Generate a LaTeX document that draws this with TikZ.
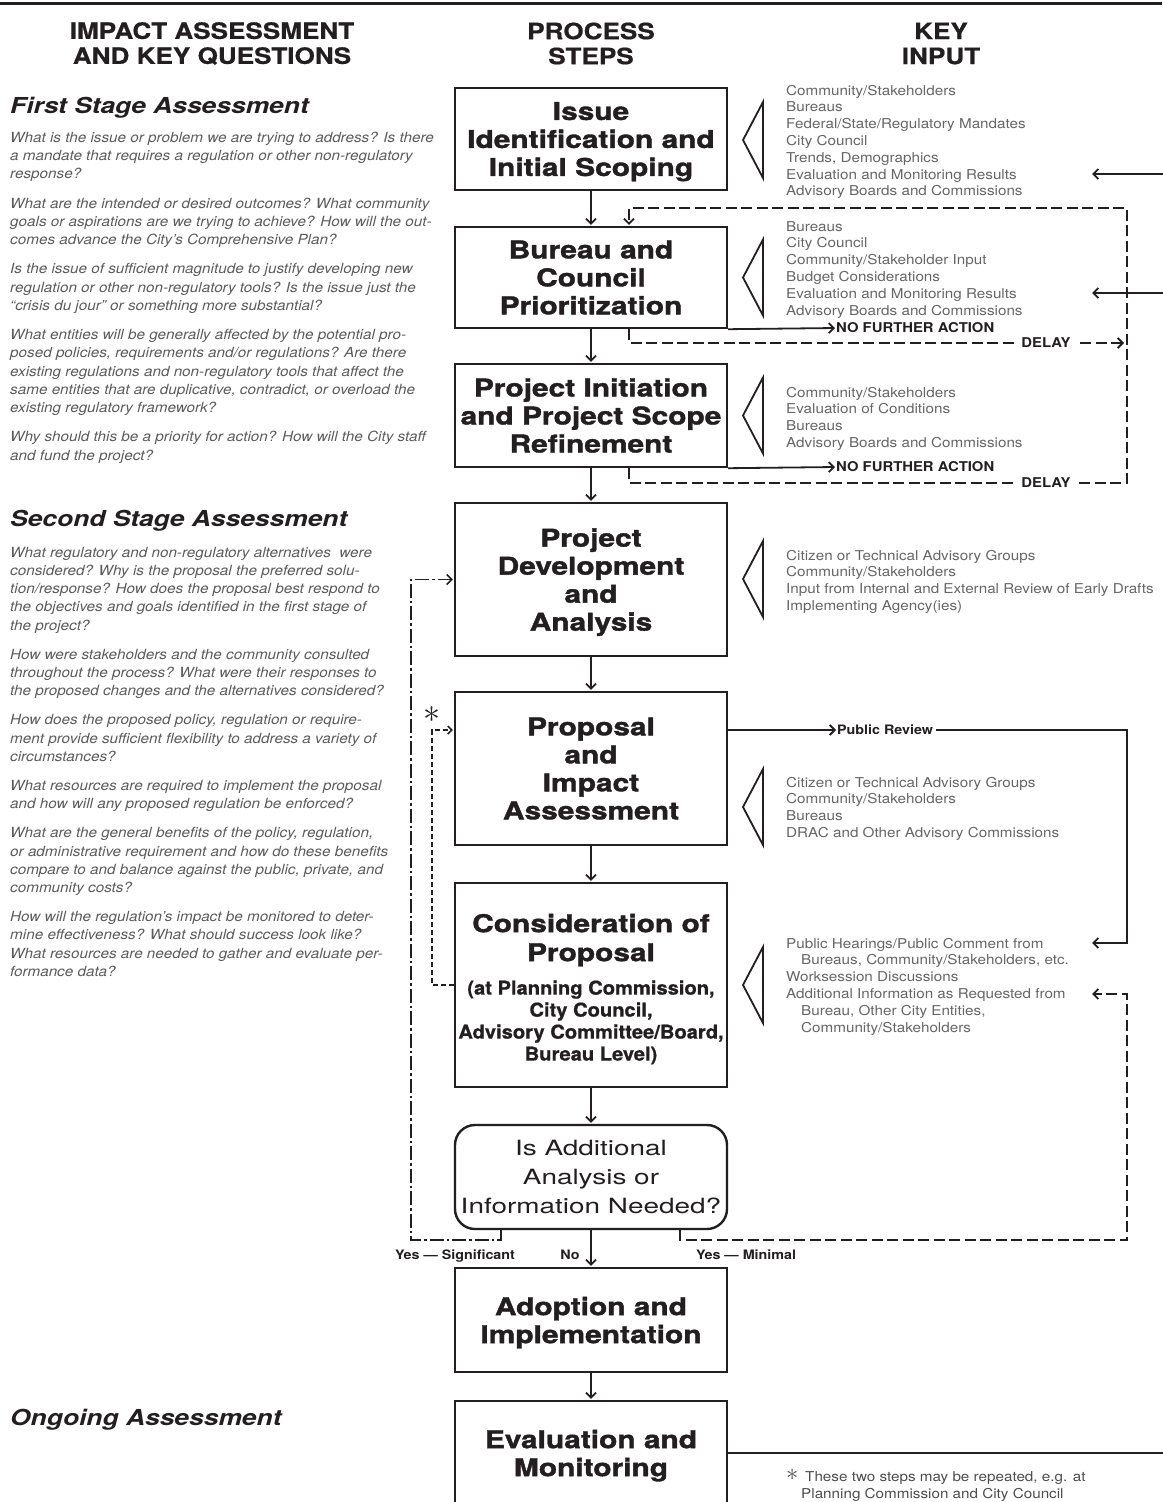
\documentclass[tikz,border=0pt]{standalone}
\usepackage{fontspec}
\usepackage{graphicx}
\usetikzlibrary{arrows.meta}
\setmainfont{TeX Gyre Heros}
\newfontfamily\hvHead[FakeStretch=1.16,BoldFeatures={FakeBold=0.6}]{TeX Gyre Heros}
\newfontfamily\hvBox[FakeStretch=1.22,BoldFeatures={FakeBold=1.5}]{TeX Gyre Heros}
\newfontfamily\hvSec[FakeStretch=1.2,BoldFeatures={FakeBold=0.8}]{TeX Gyre Heros}
\newfontfamily\hvQ[FakeStretch=1.09]{TeX Gyre Heros}
\newfontfamily\hvKey[FakeStretch=1.12]{TeX Gyre Heros}
\newfontfamily\hvDec[FakeStretch=1.33]{TeX Gyre Heros}
\newfontfamily\hvLab[FakeStretch=1.1]{TeX Gyre Heros}
\newfontfamily\hvSub[FakeStretch=1.06,BoldFeatures={FakeBold=0.8}]{TeX Gyre Heros}
\definecolor{ink}{HTML}{231F20}
\definecolor{qgray}{HTML}{5C5C5C}
\definecolor{kgray}{HTML}{666666}
\newcommand\lnstrut[1]{\rule{0pt}{#1pt}}
\newcommand\nodesc[1]{\raisebox{0pt}[\height][0pt]{#1}}
\tikzset{
  hdr/.style={font=\hvHead\bfseries\fontsize{22.5}{25}\selectfont, align=center, inner sep=0pt, text=ink},
  sec/.style={font=\hvSec\bfseries\itshape\fontsize{22}{26}\selectfont, inner sep=0pt, text=ink, anchor=base west},
  qtext/.style={font=\hvQ\itshape\fontsize{14}{18.2}\selectfont, align=left, inner sep=0pt, text=qgray, anchor=north west},
  kin/.style={font=\hvKey\fontsize{13.6}{16.8}\selectfont, align=left, inner sep=0pt, text=kgray, anchor=north west},
  stepbox/.style={draw=ink, line width=2.4pt, minimum width=272pt, inner sep=0pt, align=center, text=ink, font=\hvBox\bfseries\fontsize{24.5}{28}\selectfont},
  bigtext/.style={font=\hvBox\bfseries\fontsize{24.5}{29}\selectfont, align=center, inner sep=0pt, text=ink},
  subtext/.style={font=\hvSub\bfseries\fontsize{19}{22}\selectfont, align=center, inner sep=0pt, text=ink},
  decbox/.style={draw=ink, line width=2.4pt, rounded corners=20pt, minimum width=272pt, minimum height=104pt, inner sep=0pt, align=center, text=ink, font=\hvDec\fontsize{21}{29}\selectfont},
  lab/.style={font=\hvLab\bfseries\fontsize{13.5}{16}\selectfont, inner sep=0pt, text=ink},
  smalllab/.style={font=\hvLab\bfseries\fontsize{13}{16}\selectfont, inner sep=0pt, text=ink},
  gaplab/.style={lab, fill=white, inner xsep=5pt, inner ysep=2pt},
  conn/.style={draw=ink, line width=1.8pt},
  tipend/.style={-{Straight Barb[length=5pt,width=10pt]}, shorten >=1pt},
  flow/.style={conn, tipend},
  dashline/.style={dash pattern=on 11pt off 4.5pt},
  dashshort/.style={dash pattern=on 5pt off 3pt},
  dashdotline/.style={dash pattern=on 14pt off 3pt on 2.5pt off 3pt},
  intri/.pic={\draw[conn, line join=miter] (0,-38) -- (-20,0) -- (0,38) -- cycle;}
}
\begin{document}
\begin{tikzpicture}[x=1pt,y=-1pt]
\useasboundingbox (0,0) rectangle (1162,1502);
\fill[white] (0,0) rectangle (1162,1502);
\draw[line width=2.6pt, ink] (0,3.3) -- (1162,3.3);

% column headers
\node[hdr] (h1) at (212,43.5) {IMPACT ASSESSMENT\\AND KEY QUESTIONS};
\node[hdr] (h2) at (591,43.5) {PROCESS\\STEPS};
\node[hdr] (h3) at (941,43.5) {KEY\\INPUT};

% left column
\node[sec] (s1) at (10,113) {First Stage Assessment};
\node[qtext] (q1) at (10,129.5) {\lnstrut{12.5}What is the issue or problem we are trying to address? Is there\\
a mandate that requires a regulation or other non-regulatory\\
response?\\[11.2pt]
What are the intended or desired outcomes? What community\\
goals or aspirations are we trying to achieve? How will the out-\\
comes advance the City’s Comprehensive Plan?\\[11.2pt]
Is the issue of sufficient magnitude to justify developing new\\
regulation or other non-regulatory tools? Is the issue just the\\
“crisis du jour” or something more substantial?\\[11.2pt]
What entities will be generally affected by the potential pro-\\
posed policies, requirements and/or regulations? Are there\\
existing regulations and non-regulatory tools that affect the\\
same entities that are duplicative, contradict, or overload the\\
existing regulatory framework?\\[11.2pt]
Why should this be a priority for action? How will the City staff\\
and fund the project?};

\node[sec] (s2) at (10,526) {Second Stage Assessment};
\node[qtext] (q2) at (10,544.5) {\lnstrut{12.5}What regulatory and non-regulatory alternatives\ \ were\\
considered? Why is the proposal the preferred solu-\\
tion/response? How does the proposal best respond to\\
the objectives and goals identified in the first stage of\\
the project?\\[11pt]
How were stakeholders and the community consulted\\
throughout the process? What were their responses to\\
the proposed changes and the alternatives considered?\\[11pt]
How does the proposed policy, regulation or require-\\
ment provide sufficient flexibility to address a variety of\\
circumstances?\\[11pt]
What resources are required to implement the proposal\\
and how will any proposed regulation be enforced?\\[11pt]
What are the general benefits of the policy, regulation,\\
or administrative requirement and how do these benefits\\
compare to and balance against the public, private, and\\
community costs?\\[11pt]
How will the regulation’s impact be monitored to deter-\\
mine effectiveness? What should success look like?\\
What resources are needed to gather and evaluate per-\\
formance data?};

\node[sec] (s3) at (10,1425) {Ongoing Assessment};

% process steps
\node[stepbox, minimum height=102pt] (b1) at (591,139) {Issue\\Identification and\\\nodesc{Initial Scoping}};
\node[stepbox, minimum height=101pt] (b2) at (591,277.5) {Bureau and\\Council\\Prioritization};
\node[stepbox, minimum height=103pt] (b3) at (591,415.5) {Project Initiation\\and Project Scope\\Refinement};
\node[stepbox, minimum height=153pt] (b4) at (591,579.5) {Project\\Development\\and\\\nodesc{Analysis}};
\node[stepbox, minimum height=153pt] (b5) at (591,768.5) {Proposal\\and\\Impact\\Assessment};
\node[stepbox, minimum height=204pt] (b6) at (591,985) {};
\node[bigtext] (b6t) at (591,937.5) {Consideration of\\\nodesc{Proposal}};
\node[subtext] (b6s) at (591,1020.5) {(at Planning Commission,\\City Council,\\Advisory Committee/Board,\\\nodesc{Bureau Level)}};
\node[decbox] (dec) at (591,1177) {Is Additional\\Analysis or\\Information Needed?};
\node[stepbox, minimum height=104pt] (ad) at (591,1320) {Adoption and\\\nodesc{Implementation}};
\node[stepbox, minimum height=104pt] (ev) at (591,1453) {Evaluation and\\\nodesc{Monitoring}};

\draw[flow] (b1) -- (b2);
\draw[flow] (b2) -- (b3);
\draw[flow] (b3) -- (b4);
\draw[flow] (b4) -- (b5);
\draw[flow] (b5) -- (b6);
\draw[flow] (b6) -- (dec);
\draw[flow] (dec) -- (ad);
\draw[flow] (ad) -- (ev);

% key input
\node[kin] (k1) at (786,83.9) {\lnstrut{11}Community/Stakeholders\\Bureaus\\Federal/State/Regulatory Mandates\\City Council\\Trends, Demographics\\Evaluation and Monitoring Results\\Advisory Boards and Commissions};
\node[kin] (k2) at (786,219.9) {\lnstrut{11}Bureaus\\City Council\\Community/Stakeholder Input\\Budget Considerations\\Evaluation and Monitoring Results\\Advisory Boards and Commissions};
\node[kin] (k3) at (786,385.9) {\lnstrut{11}Community/Stakeholders\\Evaluation of Conditions\\Bureaus\\Advisory Boards and Commissions};
\node[kin] (k4) at (786,548.9) {\lnstrut{11}Citizen or Technical Advisory Groups\\Community/Stakeholders\\Input from Internal and External Review of Early Drafts\\Implementing Agency(ies)};
\node[kin] (k5) at (786,775.9) {\lnstrut{11}Citizen or Technical Advisory Groups\\Community/Stakeholders\\Bureaus\\DRAC and Other Advisory Commissions};
\node[kin] (k6) at (786,936.9) {\lnstrut{11}Public Hearings/Public Comment from\\\hspace*{15pt}Bureaus, Community/Stakeholders, etc.\\Worksession Discussions\\Additional Information as Requested from\\\hspace*{15pt}Bureau, Other City Entities,\\\hspace*{15pt}Community/Stakeholders};

\pic (t1) at (763,140) {intri};
\pic (t2) at (763,277.5) {intri};
\pic (t3) at (763,415.5) {intri};
\pic (t4) at (763,579) {intri};
\pic (t5) at (763,807) {intri};
\pic (t6) at (763,985) {intri};

% helper coordinates
\coordinate (dx) at (629,0);
\coordinate (rx) at (1127,0);
\coordinate (tipx) at (1091,0);
\coordinate (edge) at (1166,0);
\coordinate (sx) at (432,0);
\coordinate (lx) at (411,0);
\coordinate (sigx) at (501,0);
\coordinate (minx) at (680,0);
\coordinate (dlTop) at (1127,208);
\coordinate (dlBot) at (1127,483);
\coordinate (in1) at (1166,174);
\coordinate (in2) at (1166,293);
\coordinate (ph) at (1127,943);

% inputs from evaluation (off page)
\draw[flow] (in1) -- (in1 -| tipx);
\draw[flow] (in2) -- (in2 -| tipx);

% no further action
\node[lab, anchor=west] (nf1) at (836,328) {NO FURTHER ACTION};
\node[lab, anchor=west] (nf2) at (836,467) {NO FURTHER ACTION};
\draw[flow] (b2.south east) -- (nf1.west);
\draw[flow] (b3.south east) -- (nf2.west);

% delay loops
\draw[conn, dashline, tipend] (b3.south -| dx) |- (dlBot) -- (dlTop) -| (b2.north -| dx);
\draw[conn, dashline, tipend] (b2.south -| dx) |- (1125,343);
\node[gaplab] (dl1) at (1046,343) {DELAY};
\node[gaplab] (dl2) at (1046,483) {DELAY};

% public review
\node[smalllab, anchor=west] (pr) at (837,730) {Public Review};
\draw[flow] (b5.east |- pr.west) -- (pr.west);
\draw[flow] ([xshift=3pt]pr.east) -| (ph) -- (ph -| tipx);

% repeat loop (*)
\draw[conn, line width=1.5pt, dashshort, -{Straight Barb[length=4pt,width=8pt]}, shorten >=1pt] (b6.west) -| (sx |- 0,730) -- (b5.west |- 0,730);
\node[inner sep=0pt, text=ink] (star) at (432,715) {\scalebox{3.4}{$\ast$}};

% decision outcomes
\draw[conn, line width=1.5pt, dashdotline, tipend] (dec.south -| sigx) -- ++(0,10) -| (lx |- b4.west) -- (b4.west);
\draw[conn, dashline, tipend] (dec.south -| minx) -- ++(0,10) -| (rx |- 0,994) -- (tipx |- 0,994);
\node[smalllab, anchor=base] (ys) at (455,1259) {Yes — Significant};
\node[smalllab, anchor=base] (no) at (570,1259) {No};
\node[smalllab, anchor=base] (ym) at (746,1259) {Yes — Minimal};

% evaluation feedback (off page)
\draw[conn] (ev.east) -- (ev.east -| edge);

% footnote
\node[kin, text=ink!80, font=\hvKey\fontsize{13.6}{17}\selectfont] (fn) at (786,1469) {\lnstrut{11}\makebox[19pt][l]{\raisebox{1pt}{\scalebox{1.7}{$\ast$}}}These two steps may be repeated, e.g. at\\\hspace*{15pt}Planning Commission and City Council};
\end{tikzpicture}
\end{document}
